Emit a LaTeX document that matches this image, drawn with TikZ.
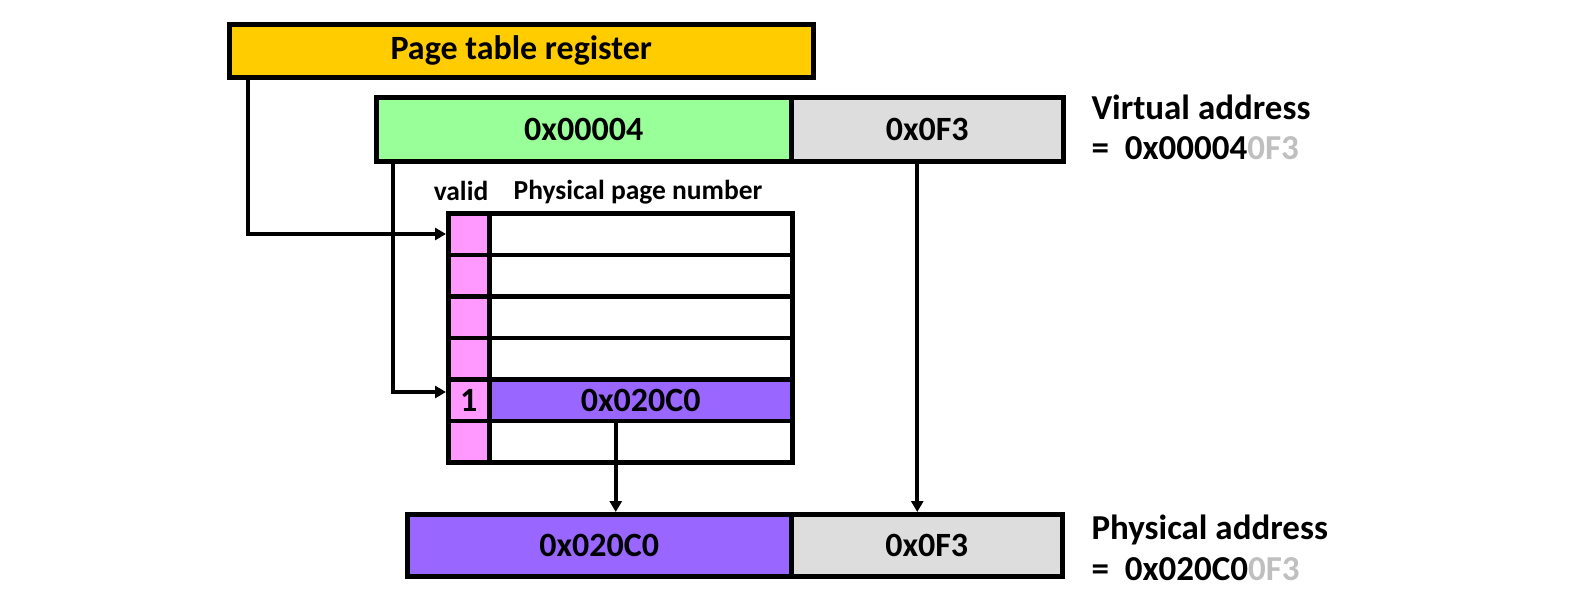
\documentclass[tikz,border=0pt]{standalone}
\usepackage{fontspec}
\setmainfont{Carlito}
\usetikzlibrary{arrows.meta}

\definecolor{regfill}{HTML}{FFCC00}
\definecolor{vpnfill}{HTML}{99FF99}
\definecolor{offfill}{HTML}{DDDDDD}
\definecolor{validfill}{HTML}{FF99FF}
\definecolor{ppnfill}{HTML}{9966FF}
\definecolor{offtext}{HTML}{BFBFBF}

\begin{document}
\begin{tikzpicture}[x=1pt, y=-1pt,
  bigfont/.style={font=\bfseries\fontsize{34}{38}\selectfont},
  capfont/.style={font=\bfseries\fontsize{35}{40}\selectfont},
  smallfont/.style={font=\bfseries\fontsize{27.5}{31}\selectfont},
  box/.style={draw=black, line width=4.5pt, rectangle, inner sep=0pt,
              anchor=north west, bigfont},
  cell/.style={draw=black, line width=4.5pt, rectangle, inner sep=0pt,
               anchor=north west, minimum height=41.5pt, bigfont},
  conn/.style={draw=black, line width=4pt,
               -{Triangle[length=11pt, width=12pt]}}]
\useasboundingbox (0,0) rectangle (1577,613);

% page table register
\node[box, fill=regfill, minimum width=584pt, minimum height=53pt]
  (reg) at (227,22) {Page table register};

% virtual address: page number and offset
\node[box, fill=vpnfill, minimum width=415pt, minimum height=64pt]
  (vpn) at (374,95) {0x00004};
\node[box, fill=offfill, minimum width=272pt, minimum height=64pt]
  (voff) at (789,95) {0x0F3};

% page table
\foreach \i in {0,...,5} {
  \node[cell, fill=validfill, minimum width=41pt] (v\i) at (446,{211+41.5*\i}) {};
  \node[cell, fill=white, minimum width=303pt] (p\i) at (487,{211+41.5*\i}) {};
}
\node[cell, fill=validfill, minimum width=41pt] (v4) at (446,{211+41.5*4}) {1};
\node[cell, fill=ppnfill, minimum width=303pt] (p4) at (487,{211+41.5*4}) {0x020C0};
\node[smallfont, anchor=base] (validlbl) at (461,200) {valid};
\node[smallfont, anchor=base] (ppnlbl) at (638,199) {Physical page number};

% physical address
\node[box, fill=ppnfill, minimum width=384pt, minimum height=62pt]
  (ppa) at (405,512) {0x020C0};
\node[box, fill=offfill, minimum width=271pt, minimum height=62pt]
  (poff) at (789,512) {0x0F3};

% connectors
\draw[conn] ([xshift=21pt]reg.south west) |- (v0.west);
\draw[conn] ([xshift=19pt]vpn.south west) |- ([yshift=8pt]v4.west);
\draw[conn] ([xshift=-25pt]p4.south) -- ([xshift=-25pt]p4.south |- ppa.north);
\draw[conn] ([xshift=-10pt]voff.south) -- ([xshift=-10pt]voff.south |- poff.north);

% address captions
\node[capfont, anchor=base west] (vcap) at (1088,119) {Virtual address};
\node[capfont, anchor=base west] (vval) at (1088,159)
  {=\ \ 0x00004\textcolor{offtext}{0F3}};
\node[capfont, anchor=base west] (pcap) at (1088,539) {Physical address};
\node[capfont, anchor=base west] (pval) at (1088,580)
  {=\ \ 0x020C0\textcolor{offtext}{0F3}};
\end{tikzpicture}
\end{document}
